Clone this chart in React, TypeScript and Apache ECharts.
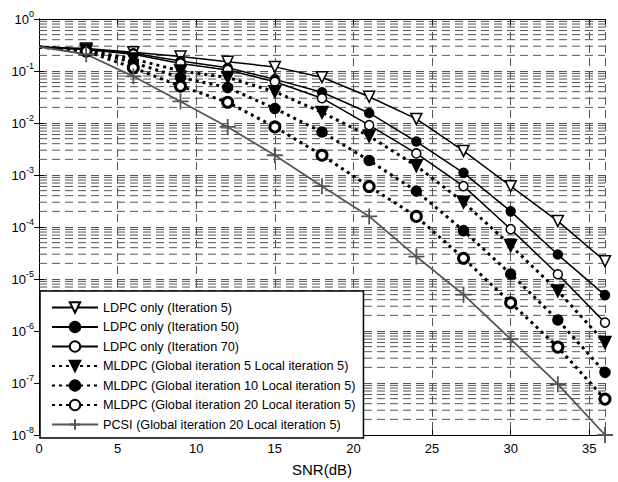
import React, { useEffect, useRef } from "react";
import * as echarts from "echarts";

const snr = [0, 3, 6, 9, 12, 15, 18, 21, 24, 27, 30, 33, 36];
const ldpc5 = [0.29, 0.27, 0.23, 0.19, 0.15, 0.12, 0.076, 0.032, 0.012, 0.0029, 6.1e-4, 1.3e-4, 2.2e-5];
const ldpc50 = [0.29, 0.26, 0.22, 0.155, 0.115, 0.069, 0.039, 0.0156, 0.0044, 0.0011, 2.0e-4, 2.95e-5, 4.9e-6];
const ldpc70 = [0.29, 0.26, 0.21, 0.14, 0.105, 0.062, 0.03, 0.0091, 0.0026, 6.1e-4, 9.1e-5, 1.23e-5, 1.45e-6];
const mldpc5 = [0.29, 0.25, 0.17, 0.1, 0.075, 0.04, 0.016, 0.0056, 0.0015, 3.0e-4, 4.4e-5, 5.9e-6, 6.0e-7];
const mldpc10 = [0.29, 0.25, 0.145, 0.075, 0.048, 0.019, 0.0067, 0.0019, 4.9e-4, 8.5e-5, 1.25e-5, 1.63e-6, 1.6e-7];
const mldpc20 = [0.29, 0.24, 0.115, 0.051, 0.025, 0.0084, 0.0024, 6.0e-4, 1.6e-4, 2.5e-5, 3.5e-6, 4.9e-7, 4.9e-8];
const pcsi = [0.29, 0.21, 0.079, 0.026, 0.0084, 0.0024, 6.1e-4, 1.6e-4, 2.7e-5, 5e-6, 7e-7, 9.5e-8, 1e-8];

const seriesNames = [
  "LDPC only (Iteration 5)",
  "LDPC only (Iteration 50)",
  "LDPC only (Iteration 70)",
  "MLDPC (Global iteration 5 Local iteration 5)",
  "MLDPC (Global iteration 10 Local iteration 5)",
  "MLDPC (Global iteration 20 Local iteration 5)",
  "PCSI (Global iteration 20 Local iteration 5)",
];

const xTicks = [0, 5, 10, 15, 20, 25, 30, 35];
const decades = [-8, -7, -6, -5, -4, -3, -2, -1];
const minorMult = [2, 3, 4, 5, 6, 7, 8, 9];

const FONT = "'Liberation Sans', Arial, sans-serif";
const PLUS = "path://M0,-10L0,10M-10,0L10,0";

function pts(ys: number[]) {
  return snr.map((x, i) =>
    i === 0 ? { value: [x, ys[i]], symbol: "none" } : { value: [x, ys[i]] }
  );
}

export default function App() {
  const ref = useRef<HTMLDivElement>(null);
  useEffect(() => {
    if (!ref.current) return;
    const chart = echarts.init(ref.current, undefined, { renderer: "svg" });

    const gridStyle = { color: "#555", width: 1, type: [8, 5] as any };

    const minorValues: number[] = [];
    decades.forEach((d) => minorMult.forEach((m) => minorValues.push(m * Math.pow(10, d))));
    const gridSeries = minorValues.map((v) => ({
      type: "line",
      data: [
        [0, v],
        [36, v],
      ],
      symbol: "none",
      silent: true,
      lineStyle: gridStyle,
      z: 1,
    }));

    const solid = (name: string, data: number[], symbol: string, size: number, fill: string, extra: any = {}) => ({
      name,
      type: "line",
      data: pts(data),
      symbol,
      symbolSize: size,
      lineStyle: { color: "#000", width: 1.5, type: "solid" },
      itemStyle: { color: fill, borderColor: "#000", borderWidth: 1.5 },
      z: 3,
      ...extra,
    });
    const dotted = (name: string, data: number[], symbol: string, size: number, fill: string, bw: number, extra: any = {}) => ({
      name,
      type: "line",
      data: pts(data),
      symbol,
      symbolSize: size,
      lineStyle: { color: "#000", width: 3, type: [3, 4] },
      itemStyle: { color: fill, borderColor: "#000", borderWidth: bw },
      z: 3,
      ...extra,
    });

    const yFmt = (v: number) => {
      const e = Math.round(Math.log10(v));
      return `{b|10}{e|${e}}`;
    };

    chart.setOption({
      animation: false,
      backgroundColor: "#fff",
      grid: { left: 39, right: 13, top: 19, bottom: 42, containLabel: false },
      legend: {
        orient: "vertical",
        left: 40,
        top: 291,
        data: seriesNames,
        itemWidth: 46,
        itemHeight: 13,
        itemGap: 6.5,
        padding: [10, 8, 7, 11],
        backgroundColor: "#fff",
        borderColor: "#000",
        borderWidth: 1.5,
        textStyle: { fontFamily: FONT, fontSize: 12.7, color: "#000" },
        selectedMode: false,
      },
      xAxis: [
        {
          type: "value",
          min: 0,
          max: 36,
          interval: 5,
          name: "SNR(dB)",
          nameLocation: "middle",
          nameGap: 27,
          nameTextStyle: { fontFamily: FONT, fontSize: 15, color: "#000" },
          axisLine: { show: true, lineStyle: { color: "#000", width: 1 } },
          axisTick: { show: true, inside: true, length: 5, lineStyle: { color: "#000" } },
          axisLabel: {
            fontFamily: FONT,
            fontSize: 13,
            color: "#000",
            margin: 7,
            formatter: (v: number) => (xTicks.includes(v) ? String(v) : ""),
          },
          splitLine: { show: true, lineStyle: gridStyle },
        },
        {
          type: "value",
          position: "top",
          min: 0,
          max: 36,
          interval: 5,
          axisLine: { show: true, lineStyle: { color: "#000", width: 1 } },
          axisTick: { show: true, inside: true, length: 5, lineStyle: { color: "#000" } },
          axisLabel: { show: false },
          splitLine: { show: false },
        },
      ],
      yAxis: [
        {
          type: "log",
          logBase: 10,
          min: 1e-8,
          max: 1,
          splitNumber: 8,
          axisLine: { show: true, lineStyle: { color: "#000", width: 1 } },
          axisTick: { show: true, inside: true, length: 5, lineStyle: { color: "#000" } },
          axisLabel: {
            fontFamily: FONT,
            color: "#000",
            margin: 5,
            formatter: yFmt,
            rich: {
              b: { fontFamily: FONT, fontSize: 13, color: "#000" },
              e: { fontFamily: FONT, fontSize: 9, color: "#000", padding: [0, 0, 10, 0] },
            },
          },
          splitLine: { show: true, lineStyle: gridStyle },
        },
        {
          type: "log",
          logBase: 10,
          min: 1e-8,
          max: 1,
          splitNumber: 8,
          position: "right",
          axisLine: { show: true, lineStyle: { color: "#000", width: 1 } },
          axisTick: { show: true, inside: true, length: 5, lineStyle: { color: "#000" } },
          axisLabel: { show: false },
          splitLine: { show: false },
        },
      ],
      series: [
        ...gridSeries,
        solid(seriesNames[0], ldpc5, "triangle", 11, "#fff", { symbolRotate: 180 }),
        solid(seriesNames[1], ldpc50, "circle", 9, "#000"),
        solid(seriesNames[2], ldpc70, "circle", 9, "#fff"),
        dotted(seriesNames[3], mldpc5, "triangle", 12, "#000", 1.5, { symbolRotate: 180 }),
        dotted(seriesNames[4], mldpc10, "circle", 10, "#000", 1.5),
        dotted(seriesNames[5], mldpc20, "circle", 10, "#fff", 3),
        {
          name: seriesNames[6],
          type: "line",
          data: pts(pcsi),
          symbol: PLUS,
          symbolSize: 16,
          lineStyle: { color: "#555", width: 1.8 },
          itemStyle: { color: "#555", borderColor: "#555", borderWidth: 1.8 },
          z: 3,
        },
      ],
    });
    return () => chart.dispose();
  }, []);
  return <div ref={ref} style={{ width: 618, height: 482, position: "absolute", left: 0, top: 0 }} />;
}
